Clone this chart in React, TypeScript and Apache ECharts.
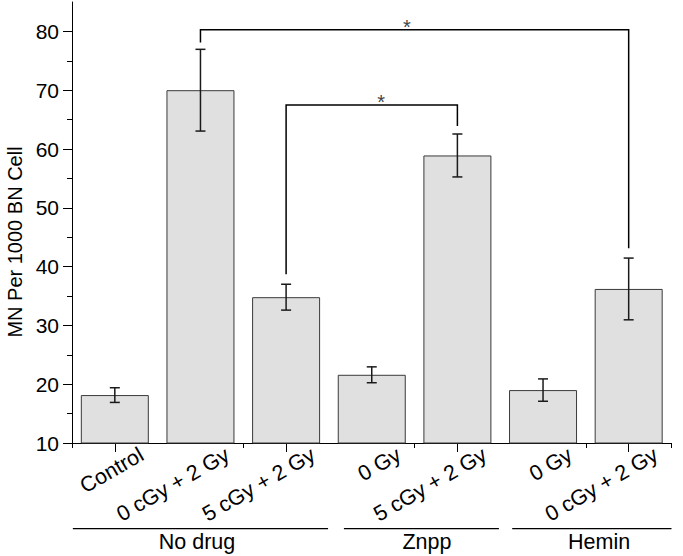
import React, { useEffect, useRef } from "react";
import * as echarts from "echarts";

const categories = ["Control", "0 cGy + 2 Gy", "5 cGy + 2 Gy", "0 Gy", "5 cGy + 2 Gy", "0 Gy", "0 cGy + 2 Gy"];
const means = [18.15, 70.0, 34.8, 21.6, 58.9, 19.0, 36.2];
const errors = [1.25, 6.95, 2.2, 1.35, 3.65, 1.9, 5.25];
const yTicks = [10, 20, 30, 40, 50, 60, 70, 80];
const yMinorTicks = [15, 25, 35, 45, 55, 65, 75];
const yTitle = "MN Per 1000 BN Cell";

// significance brackets (category indices and y values)
const bracketFrom = [1, 2];
const bracketTo = [6, 4];
const bracketTop = [80.3, 67.5];
const bracketLeftEnd = [78.1, 38.7];
const bracketRightEnd = [43.1, 63.9];
const bracketStarAt = [3.41, 3.11];
const bracketMark = ["*", "*"];

// treatment groups (spans in category units)
const groupNames = ["No drug", "Znpp", "Hemin"];
const groupStart = [-0.49, 2.675, 4.64];
const groupEnd = [2.49, 4.485, 6.5];
const groupLabelAt = [0.96, 3.645, 5.655];

const FONT = "Liberation Sans, Arial, sans-serif";

function fracX(api: any, f: number) {
  const r = Math.round(f);
  const base = api.coord([r, 10])[0];
  const band = api.size([1, 0])[0];
  return base + (f - r) * band;
}

export default function App() {
  const ref = useRef<HTMLDivElement>(null);
  useEffect(() => {
    if (!ref.current) return;
    const chart = echarts.init(ref.current, null, { renderer: "svg" });
    const axisColor = "#000";
    const option: any = {
      animation: false,
      grid: [
        { left: 72, right: 11.5, top: 2, bottom: 113, containLabel: false, outerBoundsMode: "none" },
        { left: 99, width: 600, top: 2, bottom: 113, containLabel: false, outerBoundsMode: "none" },
      ],
      xAxis: [
        {
          type: "category", gridIndex: 0, position: "bottom", data: categories,
          axisLine: { onZero: false, lineStyle: { color: axisColor, width: 1 } },
          axisTick: { show: true, length: 5, lineStyle: { color: axisColor } },
          axisLabel: { show: false },
        },
        {
          type: "category", gridIndex: 0, position: "bottom", data: categories,
          axisLine: { show: false, onZero: false },
          axisTick: { show: true, alignWithLabel: true, length: 9, lineStyle: { color: axisColor } },
          axisLabel: { show: false },
        },
        {
          type: "category", gridIndex: 1, position: "bottom", data: categories,
          axisLine: { show: false, onZero: false },
          axisTick: { show: false },
          axisLabel: { interval: 0, rotate: 30, margin: 10, fontSize: 21.5, fontFamily: FONT, color: "#000" },
        },
      ],
      yAxis: [
        {
          type: "value", gridIndex: 0, position: "left", min: 10, max: 85,
          name: yTitle, nameLocation: "middle", nameGap: 47,
          nameTextStyle: { fontSize: 20, fontFamily: FONT, color: "#000", padding: [0, 39, 0, 0] },
          axisLine: { show: true, lineStyle: { color: axisColor, width: 1 } },
          axisTick: { show: true, length: 9, customValues: yTicks, lineStyle: { color: axisColor } },
          axisLabel: { customValues: yTicks, margin: 13, fontSize: 21, fontFamily: FONT, color: "#000" },
          splitLine: { show: false },
        },
        {
          type: "value", gridIndex: 0, position: "left", min: 10, max: 85,
          axisLine: { show: false },
          axisTick: { show: true, length: 5, customValues: yMinorTicks, lineStyle: { color: axisColor } },
          axisLabel: { show: false },
          splitLine: { show: false },
        },
        {
          type: "value", gridIndex: 1, min: 10, max: 85, show: false,
        },
      ],
      series: [
        {
          type: "bar", xAxisIndex: 0, yAxisIndex: 0, data: means, barWidth: 68,
          itemStyle: { color: "#e0e0e0", borderColor: "#3a3a3a", borderWidth: 1 },
          z: 2,
        },
        {
          type: "custom", xAxisIndex: 0, yAxisIndex: 0, clip: false, z: 3,
          data: means.map((m, i) => [i, m - errors[i], m + errors[i]]),
          encode: { x: 0, y: [1, 2] },
          renderItem: (params: any, api: any) => {
            const x = api.value(0);
            const lo = api.coord([x, api.value(1)]);
            const hi = api.coord([x, api.value(2)]);
            const cap = 5;
            const st = { stroke: "#1a1a1a", lineWidth: 1.5 };
            return {
              type: "group",
              children: [
                { type: "line", shape: { x1: lo[0], y1: lo[1], x2: hi[0], y2: hi[1] }, style: st },
                { type: "line", shape: { x1: lo[0] - cap, y1: lo[1], x2: lo[0] + cap, y2: lo[1] }, style: st },
                { type: "line", shape: { x1: hi[0] - cap, y1: hi[1], x2: hi[0] + cap, y2: hi[1] }, style: st },
              ],
            };
          },
        },
        {
          type: "custom", xAxisIndex: 0, yAxisIndex: 0, clip: false, z: 4,
          data: bracketFrom.map((f, i) => [f, bracketTop[i]]),
          encode: { x: 0, y: 1 },
          renderItem: (params: any, api: any) => {
            const i = params.dataIndex;
            const pL = api.coord([bracketFrom[i], bracketLeftEnd[i]]);
            const pLT = api.coord([bracketFrom[i], bracketTop[i]]);
            const pRT = api.coord([bracketTo[i], bracketTop[i]]);
            const pR = api.coord([bracketTo[i], bracketRightEnd[i]]);
            const sx = fracX(api, bracketStarAt[i]);
            return {
              type: "group",
              children: [
                {
                  type: "polyline",
                  shape: { points: [pL, pLT, pRT, pR] },
                  style: { stroke: "#000", lineWidth: 1.5, fill: null },
                },
                {
                  type: "text",
                  style: {
                    text: bracketMark[i], x: sx, y: pLT[1] + 7, fill: "#444",
                    fontSize: 20, fontFamily: FONT, align: "center", verticalAlign: "bottom",
                  },
                },
              ],
            };
          },
        },
        {
          type: "custom", xAxisIndex: 0, yAxisIndex: 0, clip: false, z: 4,
          data: groupNames.map((_, i) => [Math.max(0, Math.round(groupStart[i])), 10]),
          encode: { x: 0, y: 1 },
          renderItem: (params: any, api: any) => {
            const i = params.dataIndex;
            const axisY = api.coord([0, 10])[1];
            const ly = axisY + 85.7;
            const x1 = fracX(api, groupStart[i]);
            const x2 = fracX(api, groupEnd[i]);
            const tx = fracX(api, groupLabelAt[i]);
            return {
              type: "group",
              children: [
                { type: "line", shape: { x1, y1: ly, x2, y2: ly }, style: { stroke: "#000", lineWidth: 1.3 } },
                {
                  type: "text",
                  style: {
                    text: groupNames[i], x: tx, y: ly + 13, fill: "#000",
                    fontSize: 21.5, fontFamily: FONT, align: "center", verticalAlign: "middle",
                  },
                },
              ],
            };
          },
        },
      ],
    };
    chart.setOption(option);
    return () => chart.dispose();
  }, []);
  return <div ref={ref} style={{ width: 683, height: 556, position: "absolute", left: 0, top: 0 }} />;
}
